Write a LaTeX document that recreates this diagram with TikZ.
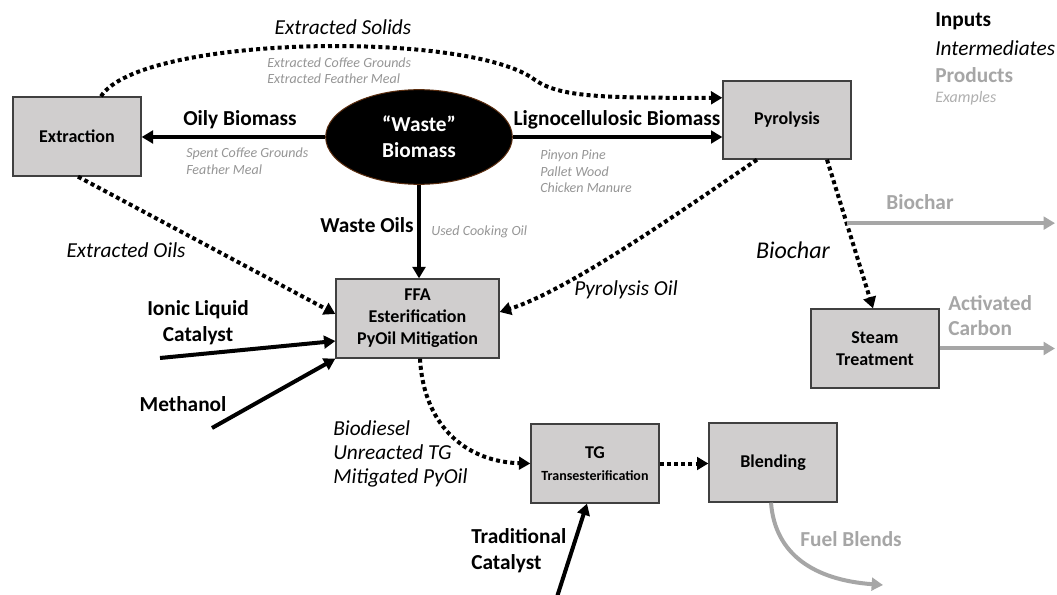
\documentclass[tikz,border=0pt]{standalone}
\usepackage{fontspec}
\setmainfont{Carlito}
\usetikzlibrary{arrows.meta,calc,shapes.geometric}
\definecolor{boxgray}{RGB}{208,206,206}
\definecolor{boxline}{RGB}{64,64,64}
\definecolor{prodgray}{RGB}{166,166,166}
\definecolor{exgray}{RGB}{150,150,150}
\definecolor{leggray}{RGB}{175,175,175}
\definecolor{rimbrown}{RGB}{90,45,15}

\begin{document}
\begin{tikzpicture}[x=0.75pt,y=-0.75pt,
  stepbox/.style={draw=boxline, fill=boxgray, line width=1pt, align=center, inner sep=0pt,
    font=\bfseries\fontsize{13.5}{16.5}\selectfont, minimum width=96pt, minimum height=59.25pt},
  big/.style={font=\bfseries\fontsize{16}{19.5}\selectfont, align=center, inner sep=0pt},
  inter/.style={font=\itshape\fontsize{16}{18}\selectfont, align=left, inner sep=0pt},
  example/.style={text=exgray, font=\itshape\fontsize{10.5}{12.4}\selectfont, align=left, inner sep=0pt, anchor=west},
  product/.style={text=prodgray, font=\bfseries\fontsize{16}{19}\selectfont, align=left, inner sep=0pt},
  flow/.style={line width=3pt, -{Triangle[length=8.5pt,width=9.5pt]}},
  dotflow/.style={line width=3pt, dash pattern=on 3pt off 2.4pt, -{Triangle[length=8.5pt,width=9.5pt]}},
  prodflow/.style={draw=prodgray, line width=3pt, -{Triangle[length=8.5pt,width=9.5pt]}},
]
\fill[white] (0,0) rectangle (1057,595);
\useasboundingbox (0,0) rectangle (1057,595);

% process steps
\node[stepbox] (ext) at (77,136.5) {Extraction};
\node[stepbox, minimum height=58.5pt] (pyr) at (787,120) {Pyrolysis};
\node[stepbox, minimum width=122.25pt] (ffa) at (417.5,318.5) {FFA\\Esterification\\PyOil Mitigation};
\node[stepbox] (steam) at (875,348.5) {Steam\\Treatment};
\node[stepbox] (tg) at (595,463.5) {TG\\{\fontsize{10.5}{13}\selectfont Transesterification}};
\node[stepbox] (blend) at (773,462.5) {Blending};

% feedstock
\node[ellipse, fill=black, draw=rimbrown, line width=0.75pt, minimum width=140pt, minimum height=71pt,
  inner sep=0pt, text=white, big] (wb) at (419,137) {“Waste”\\Biomass};

% main feed lines
\draw[flow] (wb.west) -- (wb.west -| ext.east);
\draw[flow] (wb.east) -- (wb.east -| pyr.west);
\draw[flow] (wb.south) -- (wb.south |- ffa.north);

% intermediates
\draw[dotflow] ($(ext.north)+(24,0)$) .. controls (140,35) and (470,30) .. (535,80)
  .. controls (560,97) and (600,98) .. ($(pyr.north west)!0.22!(pyr.south west)$);
\draw[dotflow] ($(ext.south)+(1,0)$) -- ($(ffa.west)+(0,-4.5)$);
\draw[dotflow] ($(pyr.south)+(-30,0)$) .. controls (690,205) and (570,290) .. ($(ffa.east)+(0,-6.5)$);
\draw[dotflow] ($(pyr.south)+(40,0)$) coordinate (bcA) -- ($(steam.north)+(-2,0)$) coordinate (bcB);
\draw[dotflow] ($(ffa.south)+(2.5,0)$) .. controls (424,430) and (470,462) .. (tg.west);
\draw[dotflow] (tg.east) -- (tg.east -| blend.west);

% other inputs
\coordinate (ilStart) at (160,358);
\coordinate (meStart) at (212,428);
\coordinate (tcStart) at (556,600);
\draw[flow] (ilStart) -- ($(ffa.west)+(0,22.5)$);
\draw[flow] (meStart) -- (ffa.south west);
\draw[flow] (tcStart) -- ($(tg.south)+(-8,0)$);

% products
\coordinate (bcOut) at ($(bcA)!0.427!(bcB)$);
\coordinate (bcEnd) at (1055,223);
\coordinate (acEnd) at (1055,348.5);
\coordinate (fbEnd) at (883,585);
\draw[prodflow] (bcOut) -- (bcOut -| bcEnd);
\draw[prodflow] (steam.east) -- (acEnd);
\draw[prodflow] ($(blend.south)+(-2,0)$) .. controls (775,555) and (815,580) .. (fbEnd);

% labels
\node[inter] (lblSolids) at (343,27) {Extracted Solids};
\node[example] (exSolids) at (267,70.5) {Extracted Coffee Grounds\\Extracted Feather Meal};
\node[big] (lblOily) at (240,120) {Oily Biomass};
\node[example] (exOily) at (186,161) {Spent Coffee Grounds\\Feather Meal};
\node[big] (lblLigno) at (617,120) {Lignocellulosic Biomass};
\node[example] (exLigno) at (540,171.5) {Pinyon Pine\\Pallet Wood\\Chicken Manure};
\node[big] (lblWaste) at (367,225) {Waste Oils};
\node[example] (exWaste) at (431,232) {Used Cooking Oil};
\node[inter] (lblExOils) at (126,250) {Extracted Oils};
\node[inter] (lblPyOil) at (626,290) {Pyrolysis Oil};
\node[inter, font=\itshape\fontsize{18}{20}\selectfont] (lblChar) at (793,250) {Biochar};
\node[product] (prodChar) at (920,202) {Biochar};
\node[product, anchor=west] (prodAC) at (948,315.5) {Activated\\Carbon};
\node[big] (inIL) at (198,323) {Ionic Liquid\\Catalyst};
\node[big] (inMe) at (183,404) {Methanol};
\node[inter, anchor=west] (lblBio) at (333,454) {Biodiesel\\Unreacted TG\\Mitigated PyOil};
\node[big, anchor=west, align=left] (inTC) at (471,550.5) {Traditional\\Catalyst};
\node[product] (prodFB) at (851,539) {Fuel Blends};

% key
\node[big, anchor=west] (legIn) at (935,21) {Inputs};
\node[inter, anchor=west] (legInter) at (935,48) {Intermediates};
\node[product, anchor=west] (legProd) at (935,75) {Products};
\node[example, text=leggray, font=\itshape\fontsize{12}{14}\selectfont] (legEx) at (935,98) {Examples};
\end{tikzpicture}
\end{document}
